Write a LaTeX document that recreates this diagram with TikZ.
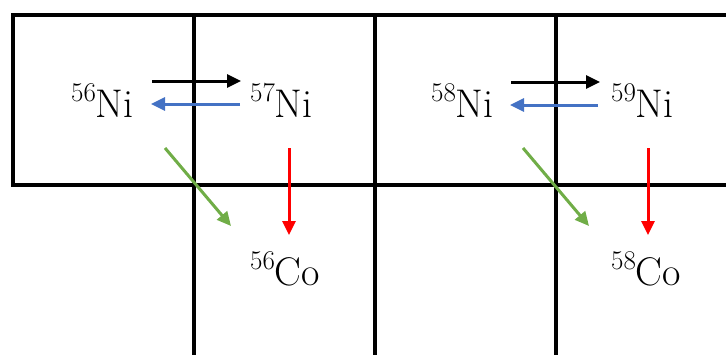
\documentclass[tikz,border=0pt]{standalone}
\usetikzlibrary{arrows.meta}
\definecolor{arrblue}{HTML}{4472C4}
\definecolor{arrgreen}{HTML}{70AD47}
\definecolor{arrred}{HTML}{FF0000}
\newcommand{\isosup}[1]{\raisebox{16pt}{\fontsize{27}{28}\selectfont #1}}
\begin{document}
\begin{tikzpicture}[x=1pt,y=-1pt,
  grid/.style={line width=4pt, line cap=rect},
  iso/.style={anchor=base west, inner sep=0pt, font=\fontsize{40}{42}\selectfont},
  arr/.style={line width=3pt, -{Triangle[length=14pt,width=13pt]}}]
\useasboundingbox (0,0) rectangle (726,354);
% grid
\draw[grid] (726,15) -- (13,15) -- (13,185) -- (726,185);
\draw[grid] (194,15) -- (194,356);
\draw[grid] (375,15) -- (375,356);
\draw[grid] (556,15) -- (556,356);
% labels
\node[iso] (ni56) at (71,117) {\isosup{56}Ni};
\node[iso] (ni57) at (250,117) {\isosup{57}Ni};
\node[iso] (ni58) at (431,117) {\isosup{58}Ni};
\node[iso] (ni59) at (611,117) {\isosup{59}Ni};
\node[iso] (co56) at (250,285) {\isosup{56}Co};
\node[iso] (co58) at (611,285) {\isosup{58}Co};
% arrow end points
\coordinate (a1s) at (152,81); \coordinate (a1e) at (241,81);
\coordinate (b1s) at (240,104); \coordinate (b1e) at (151,104);
\coordinate (g1s) at (165,148); \coordinate (g1e) at (231,226);
\coordinate (r1s) at (289,148); \coordinate (r1e) at (289,235);
\coordinate (a2s) at (511,82); \coordinate (a2e) at (600,82);
\coordinate (b2s) at (598,105); \coordinate (b2e) at (510,105);
\coordinate (g2s) at (523,148); \coordinate (g2e) at (589,226);
\coordinate (r2s) at (648,148); \coordinate (r2e) at (648,235);
% arrows
\draw[arr, black] (a1s) -- (a1e);
\draw[arr, arrblue] (b1s) -- (b1e);
\draw[arr, arrgreen] (g1s) -- (g1e);
\draw[arr, arrred] (r1s) -- (r1e);
\draw[arr, black] (a2s) -- (a2e);
\draw[arr, arrblue] (b2s) -- (b2e);
\draw[arr, arrgreen] (g2s) -- (g2e);
\draw[arr, arrred] (r2s) -- (r2e);
\end{tikzpicture}
\end{document}
